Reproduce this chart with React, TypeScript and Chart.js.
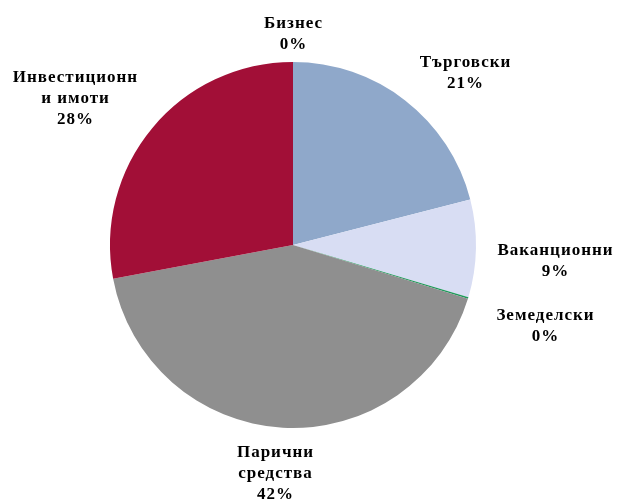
import React, { useEffect, useRef } from "react";
import { Chart, registerables } from "chart.js";

Chart.register(...registerables);

const categories = ["Търговски", "Ваканционни", "Земеделски", "Парични средства", "Инвестиционни имоти", "Бизнес"];
const shares = [21.0, 8.6, 0.15, 42.3, 27.95, 0.0];
const sliceColors = ["#8FA8CA", "#D8DDF3", "#1E9A5A", "#8F8F8F", "#A20F37", "#4F6FA8"];
const labelLines = [["Търговски"], ["Ваканционни"], ["Земеделски"], ["Парични", "средства"], ["Инвестиционн", "и имоти"], ["Бизнес"]];
// label block centre, relative to pie centre
const labelOffsets = [
  [172, -172],
  [262, 16],
  [252, 81],
  [-18, 229],
  [-218, -146],
  [0, -211],
];

const labelPlugin = {
  id: "outsideLabels",
  afterDatasetsDraw(chart: any) {
    const meta = chart.getDatasetMeta(0);
    const arc = meta.data[0];
    if (!arc) return;
    const cx = arc.x;
    const cy = arc.y;
    const ctx = chart.ctx;
    const data = chart.data.datasets[0].data as number[];
    const total = data.reduce((a, b) => a + b, 0);
    ctx.save();
    ctx.font = "bold 17px 'Liberation Serif'";
    (ctx as any).letterSpacing = "1px";
    ctx.fillStyle = "#000";
    ctx.textAlign = "center";
    ctx.textBaseline = "middle";
    const lh = 21;
    data.forEach((v, i) => {
      const lines = [...labelLines[i], Math.round((v / total) * 100) + "%"];
      const [dx, dy] = labelOffsets[i];
      const x = cx + dx + 0.5;
      const y0 = cy + dy - ((lines.length - 1) * lh) / 2;
      lines.forEach((t, j) => ctx.fillText(t, x, y0 + j * lh));
    });
    ctx.restore();
  },
};

export default function App() {
  const ref = useRef<HTMLCanvasElement>(null);
  useEffect(() => {
    if (!ref.current) return;
    const chart = new Chart(ref.current, {
      type: "pie",
      data: {
        labels: categories,
        datasets: [
          {
            data: shares,
            backgroundColor: sliceColors,
            borderWidth: 0,
          },
        ],
      },
      options: {
        animation: false,
        responsive: false,
        layout: { padding: { left: 110, right: 152, top: 62, bottom: 76 } },
        plugins: { legend: { display: false }, tooltip: { enabled: false } },
      },
      plugins: [labelPlugin],
    });
    return () => chart.destroy();
  }, []);
  return (
    <div style={{ position: "absolute", left: 0, top: 0, width: 628, height: 504, background: "#fff" }}>
      <canvas ref={ref} width={628} height={504} />
    </div>
  );
}
